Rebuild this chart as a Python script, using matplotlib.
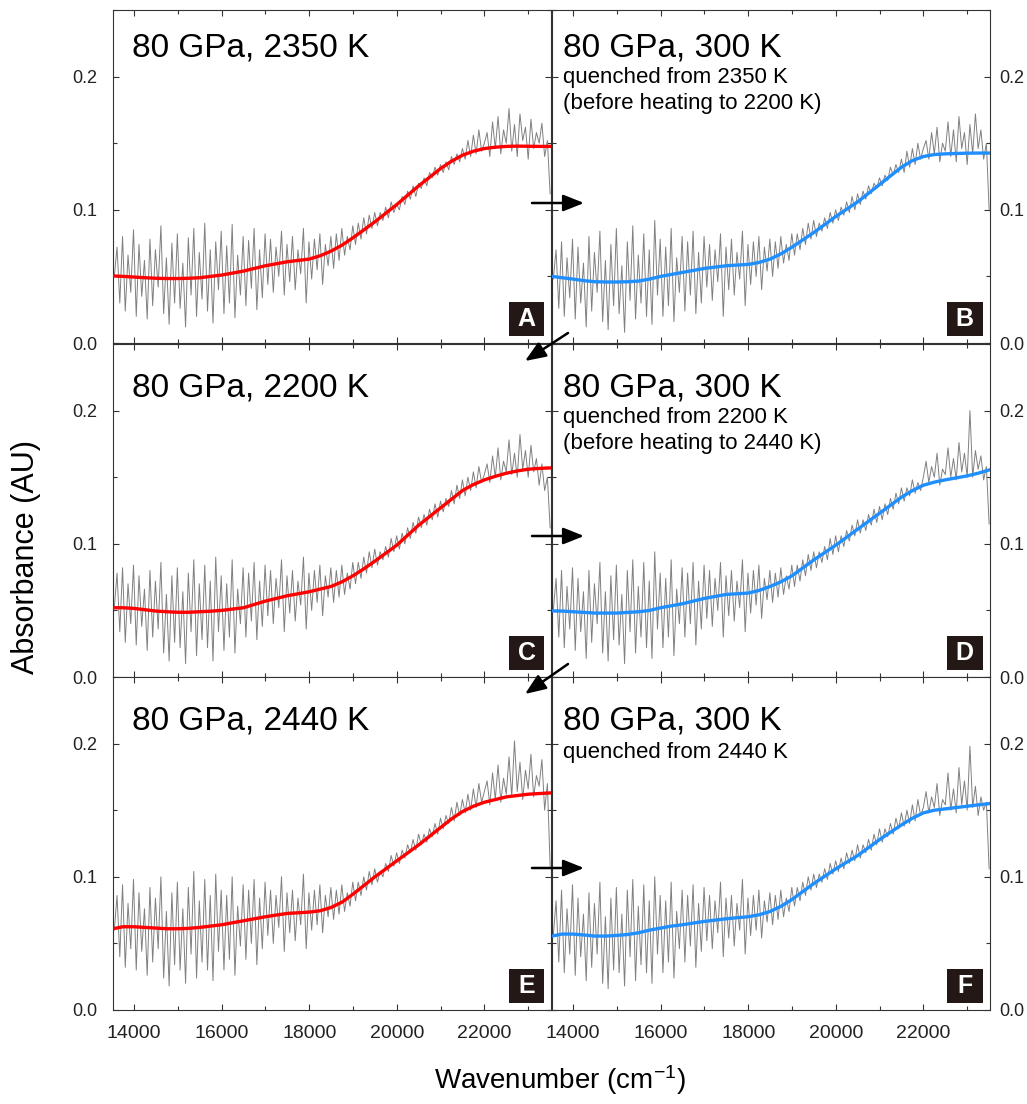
import numpy as np
import matplotlib.pyplot as plt
from matplotlib.patches import Rectangle, FancyArrowPatch
from matplotlib.ticker import MultipleLocator

plt.rcParams["font.family"] = ["Liberation Sans", "DejaVu Sans"]
plt.rcParams["mathtext.fontset"] = "custom"
plt.rcParams["mathtext.rm"] = "Liberation Sans"
plt.rcParams["mathtext.it"] = "Liberation Sans:italic"

# smooth fitted curves: wavenumber grid and absorbance per panel
fit_x = [13520] + list(range(13750, 23251, 250)) + [23520]
fit_a = [0.0503, 0.0500, 0.0495, 0.049, 0.0486, 0.0484, 0.0484, 0.0486, 0.049, 0.050,
         0.051, 0.0525, 0.054, 0.056, 0.058, 0.0595, 0.061, 0.062, 0.063, 0.0655,
         0.069, 0.0735, 0.079, 0.085, 0.091, 0.0975, 0.104, 0.111, 0.118, 0.1245,
         0.131, 0.1365, 0.141, 0.144, 0.146, 0.147, 0.1476, 0.1478, 0.1477, 0.1476, 0.1476]
fit_b = [0.050, 0.049, 0.048, 0.0468, 0.046, 0.0458, 0.0458, 0.046, 0.0465, 0.048,
         0.050, 0.0515, 0.053, 0.0545, 0.056, 0.057, 0.058, 0.0585, 0.059, 0.0605,
         0.063, 0.067, 0.072, 0.0775, 0.083, 0.089, 0.095, 0.1005, 0.106, 0.1125,
         0.119, 0.1255, 0.132, 0.137, 0.140, 0.1415, 0.142, 0.1423, 0.1425, 0.1426, 0.1426]
fit_c = [0.052, 0.052, 0.0515, 0.0505, 0.0495, 0.049, 0.0486, 0.0486, 0.049, 0.0494,
         0.050, 0.051, 0.052, 0.0545, 0.057, 0.059, 0.061, 0.0625, 0.064, 0.066,
         0.068, 0.0715, 0.076, 0.0813, 0.087, 0.093, 0.099, 0.1065, 0.114, 0.1205,
         0.127, 0.1335, 0.140, 0.1445, 0.148, 0.1507, 0.153, 0.1547, 0.156, 0.1566, 0.157]
fit_d = [0.0496, 0.0495, 0.049, 0.0485, 0.048, 0.048, 0.048, 0.0485, 0.049, 0.050,
         0.052, 0.0535, 0.055, 0.057, 0.059, 0.0605, 0.062, 0.0625, 0.063, 0.065,
         0.068, 0.0715, 0.076, 0.082, 0.088, 0.0935, 0.099, 0.105, 0.111, 0.117,
         0.123, 0.129, 0.135, 0.140, 0.144, 0.1463, 0.148, 0.1495, 0.151, 0.153, 0.1556]
fit_e = [0.061, 0.0625, 0.0625, 0.062, 0.0615, 0.061, 0.061, 0.0613, 0.062, 0.063,
         0.064, 0.0655, 0.067, 0.0685, 0.070, 0.0713, 0.0725, 0.073, 0.0735, 0.0745,
         0.077, 0.081, 0.087, 0.0935, 0.100, 0.106, 0.112, 0.118, 0.124, 0.1305,
         0.137, 0.1435, 0.149, 0.153, 0.156, 0.158, 0.160, 0.161, 0.162, 0.1625, 0.163]
fit_f = [0.0555, 0.057, 0.057, 0.0563, 0.0555, 0.0555, 0.056, 0.0567, 0.058, 0.060,
         0.0615, 0.063, 0.064, 0.0653, 0.0665, 0.0675, 0.0685, 0.0693, 0.070, 0.0715,
         0.074, 0.0779, 0.083, 0.089, 0.095, 0.1005, 0.106, 0.111, 0.116, 0.122,
         0.128, 0.1335, 0.139, 0.144, 0.148, 0.150, 0.151, 0.152, 0.153, 0.154, 0.155]

raw_a = [50, 72, 30, 80, 24, 66, 38, 85, 20, 74, 35, 62, 18, 78, 28, 70,
         42, 88, 22, 64, 14, 75, 30, 82, 26, 60, 12, 79, 36, 86, 20, 68,
         33, 90, 24, 70, 15, 76, 40, 84, 22, 73, 30, 89, 19, 66, 36, 80,
         28, 77, 41, 86, 25, 70, 34, 82, 44, 78, 38, 72, 50, 84, 36, 74,
         46, 80, 40, 70, 52, 86, 30, 76, 48, 78, 55, 82, 44, 74, 58, 80,
         56, 82, 62, 86, 66, 80, 70, 88, 74, 90, 78, 94, 82, 96, 86, 98,
         88, 98, 92, 102, 94, 106, 98, 104, 100, 110, 104, 114, 108, 118, 110, 120,
         116, 124, 118, 128, 124, 132, 126, 134, 128, 136, 130, 140, 134, 142, 136, 146,
         138, 152, 140, 156, 142, 160, 144, 150, 158, 140, 166, 146, 170, 142, 160, 150,
         176, 144, 164, 140, 172, 152, 162, 138, 168, 146, 158, 150, 165, 140, 152, 112]
raw_b = [48, 70, 26, 76, 20, 64, 34, 78, 18, 72, 30, 60, 12, 80, 24, 68,
         38, 84, 16, 62, 10, 74, 28, 86, 22, 58, 8, 76, 32, 88, 18, 66,
         30, 82, 20, 70, 14, 92, 36, 78, 20, 72, 28, 86, 16, 64, 38, 80,
         24, 76, 36, 84, 22, 68, 30, 80, 42, 74, 32, 70, 46, 82, 20, 72,
         40, 78, 36, 68, 48, 84, 28, 74, 44, 76, 50, 80, 40, 72, 54, 78,
         50, 76, 56, 80, 60, 74, 62, 82, 66, 82, 70, 86, 74, 90, 78, 92,
         80, 90, 84, 94, 86, 98, 90, 100, 92, 102, 96, 106, 98, 110, 100, 112,
         104, 114, 108, 118, 112, 120, 116, 124, 118, 126, 122, 132, 126, 134, 128, 138,
         128, 144, 132, 146, 134, 150, 138, 146, 152, 138, 158, 142, 162, 136, 150, 144,
         166, 140, 160, 136, 170, 146, 158, 134, 164, 142, 172, 146, 160, 138, 150, 100]
raw_c = [52, 78, 34, 82, 26, 70, 40, 84, 24, 76, 38, 66, 20, 80, 30, 72,
         36, 86, 18, 62, 12, 76, 26, 82, 22, 64, 10, 78, 34, 88, 16, 70,
         28, 84, 22, 72, 12, 90, 34, 76, 20, 70, 30, 88, 18, 66, 40, 82,
         30, 78, 42, 86, 28, 72, 38, 84, 46, 80, 40, 74, 52, 88, 34, 76,
         48, 80, 42, 72, 54, 90, 36, 78, 50, 80, 56, 84, 46, 76, 60, 82,
         56, 80, 60, 84, 62, 78, 66, 86, 70, 86, 74, 90, 78, 94, 82, 96,
         84, 94, 88, 98, 90, 104, 94, 106, 96, 108, 100, 112, 104, 116, 108, 120,
         112, 122, 114, 126, 118, 130, 120, 132, 124, 134, 128, 140, 130, 144, 134, 148,
         136, 150, 140, 154, 142, 158, 146, 152, 160, 146, 166, 150, 172, 148, 162, 154,
         178, 152, 168, 150, 182, 156, 170, 150, 174, 154, 164, 144, 160, 140, 150, 112]
raw_d = [50, 74, 30, 80, 22, 68, 36, 82, 20, 74, 34, 64, 14, 80, 26, 70,
         40, 86, 18, 64, 12, 76, 28, 84, 24, 62, 10, 80, 34, 88, 18, 68,
         30, 86, 22, 72, 14, 94, 36, 78, 22, 74, 30, 88, 16, 66, 40, 82,
         30, 78, 40, 86, 24, 72, 36, 84, 44, 80, 38, 74, 50, 86, 30, 76,
         46, 80, 42, 72, 52, 88, 34, 78, 48, 80, 54, 84, 44, 74, 58, 80,
         56, 78, 60, 82, 62, 76, 66, 84, 68, 84, 72, 88, 76, 92, 80, 94,
         82, 94, 86, 98, 88, 104, 92, 106, 94, 106, 98, 110, 102, 114, 106, 118,
         108, 118, 110, 122, 114, 126, 116, 128, 118, 130, 122, 134, 126, 138, 130, 142,
         132, 142, 136, 148, 138, 146, 140, 150, 162, 146, 158, 150, 168, 144, 156, 152,
         172, 150, 164, 148, 176, 154, 168, 150, 200, 150, 170, 156, 166, 148, 158, 115]
raw_e = [60, 86, 40, 94, 32, 80, 46, 98, 30, 88, 44, 76, 26, 92, 36, 84,
         46, 100, 24, 74, 18, 88, 34, 96, 30, 76, 20, 92, 42, 104, 24, 82,
         36, 98, 30, 86, 22, 102, 44, 90, 30, 86, 38, 100, 26, 78, 48, 94,
         38, 90, 50, 98, 34, 84, 46, 96, 56, 90, 50, 86, 62, 100, 44, 88,
         58, 90, 52, 84, 64, 102, 46, 88, 60, 90, 64, 94, 58, 86, 70, 92,
         68, 90, 72, 94, 74, 88, 78, 96, 82, 96, 86, 100, 90, 104, 94, 106,
         96, 104, 100, 110, 104, 116, 108, 118, 110, 120, 114, 124, 118, 128, 120, 132,
         124, 132, 126, 136, 130, 140, 132, 144, 136, 146, 140, 152, 142, 156, 146, 158,
         148, 162, 150, 166, 152, 170, 156, 164, 172, 154, 178, 158, 184, 156, 174, 162,
         190, 160, 202, 164, 186, 158, 180, 166, 192, 160, 176, 168, 188, 150, 170, 108]
raw_f = [56, 82, 36, 90, 28, 76, 42, 94, 26, 84, 40, 72, 22, 88, 32, 80,
         42, 96, 20, 70, 16, 84, 30, 92, 28, 72, 18, 90, 40, 98, 22, 78,
         34, 94, 28, 82, 20, 100, 42, 86, 28, 82, 36, 96, 24, 74, 46, 90,
         36, 86, 48, 94, 32, 80, 44, 92, 52, 86, 46, 82, 58, 96, 40, 84,
         54, 86, 48, 80, 60, 98, 42, 84, 56, 86, 60, 90, 54, 82, 66, 88,
         64, 86, 68, 90, 70, 84, 74, 92, 78, 92, 82, 96, 86, 100, 90, 102,
         92, 102, 96, 106, 98, 110, 102, 112, 104, 114, 106, 118, 110, 120, 112, 124,
         114, 124, 118, 128, 120, 132, 124, 136, 126, 136, 130, 140, 132, 144, 136, 148,
         138, 150, 140, 154, 142, 158, 146, 152, 164, 148, 160, 152, 170, 146, 158, 154,
         178, 150, 166, 148, 182, 154, 172, 150, 198, 152, 168, 146, 160, 150, 156, 106]

titles = ["80 GPa, 2350 K", "80 GPa, 300 K", "80 GPa, 2200 K",
          "80 GPa, 300 K", "80 GPa, 2440 K", "80 GPa, 300 K"]
subtitles = ["", "quenched from 2350 K\n(before heating to 2200 K)",
             "", "quenched from 2200 K\n(before heating to 2440 K)",
             "", "quenched from 2440 K"]
letters = ["A", "B", "C", "D", "E", "F"]
fits = [fit_a, fit_b, fit_c, fit_d, fit_e, fit_f]
raws = [raw_a, raw_b, raw_c, raw_d, raw_e, raw_f]

W, H = 1027, 1104
fig = plt.figure(figsize=(W / 100, H / 100), dpi=100)

col_left = [113, 552]
col_w = 438
row_top = [10, 344, 677]
row_h = 333
title_y = [0.859, 0.859, 0.841, 0.841, 0.841, 0.841]
sub_y = [None, 0.781, None, 0.763, None, 0.757]

for i in range(6):
    r, c = divmod(i, 2)
    x0 = col_left[c] / W
    y0 = 1 - (row_top[r] + row_h) / H
    ax = fig.add_axes([x0, y0, col_w / W, row_h / H])

    raw = np.array(raws[i]) / 1000
    wn = np.linspace(13550, 23500, len(raw))
    ax.plot(wn, raw, color="#808080", lw=0.7, zorder=2)
    ax.plot(fit_x, fits[i], color="red" if c == 0 else "#1f8fff", lw=2.4, zorder=3,
            solid_joinstyle="round")

    ax.set_xlim(13520, 23520)
    ax.set_ylim(0, 0.25)
    ax.xaxis.set_major_locator(MultipleLocator(2000))
    ax.xaxis.set_minor_locator(MultipleLocator(1000))
    ax.yaxis.set_major_locator(MultipleLocator(0.1))
    ax.yaxis.set_minor_locator(MultipleLocator(0.05))
    ax.yaxis.set_major_formatter(plt.FormatStrFormatter("%.1f"))

    ax.tick_params(which="both", direction="in", top=True, bottom=True,
                   left=True, right=True, width=0.8, color="#333333",
                   labelcolor="#222222")
    ax.tick_params(which="major", length=4.5)
    ax.tick_params(which="minor", length=3)
    ax.tick_params(axis="x", labelsize=14, pad=11, labelbottom=(r == 2))
    if c == 0:
        ax.tick_params(axis="y", labelsize=13, pad=11, labelleft=True, labelright=False)
    else:
        ax.tick_params(axis="y", labelsize=13, pad=7, labelleft=False, labelright=True)
    for s in ax.spines.values():
        s.set_color("#333333")
        s.set_linewidth(0.8)

    tx = 0.043 if c == 0 else 0.025
    ax.text(tx, title_y[i], titles[i], transform=ax.transAxes, fontsize=24,
            va="baseline", ha="left", color="black")
    if subtitles[i]:
        for k, line in enumerate(subtitles[i].split("\n")):
            ax.text(tx, sub_y[i] - k * 0.079, line, transform=ax.transAxes,
                    fontsize=16, va="baseline", ha="left", color="black")

    # letter box in the lower right corner
    bx = 0.904 if c == 0 else 0.902
    ax.add_patch(Rectangle((bx, 0.021), 0.081, 0.102, transform=ax.transAxes,
                           facecolor="#231815", edgecolor="none", zorder=5))
    ax.text(bx + 0.0405, 0.072, letters[i], transform=ax.transAxes, fontsize=18,
            fontweight="bold", color="white", ha="center", va="center", zorder=6)


# arrows between panels, in figure pixels
def arrow(p0, p1):
    a = FancyArrowPatch((p0[0] / W, 1 - p0[1] / H), (p1[0] / W, 1 - p1[1] / H),
                        transform=fig.transFigure, arrowstyle="-|>,head_length=0.7,head_width=0.28",
                        mutation_scale=18, color="black", lw=1.8, shrinkA=0, shrinkB=0)
    fig.add_artist(a)


for y in [203, 536, 868]:
    arrow((532, y), (584, y))
arrow((568, 333), (525, 361))
arrow((568, 664), (525, 694))

fig.text(26 / W, 1 - 557 / H, "Absorbance (AU)", rotation=90, fontsize=22,
         ha="center", va="center")
fig.text(560 / W, 1 - 1080 / H, r"Wavenumber (cm$^{\mathregular{-1}}$)", fontsize=20,
         ha="center", va="center")

fig.savefig("out.png", dpi=100)
